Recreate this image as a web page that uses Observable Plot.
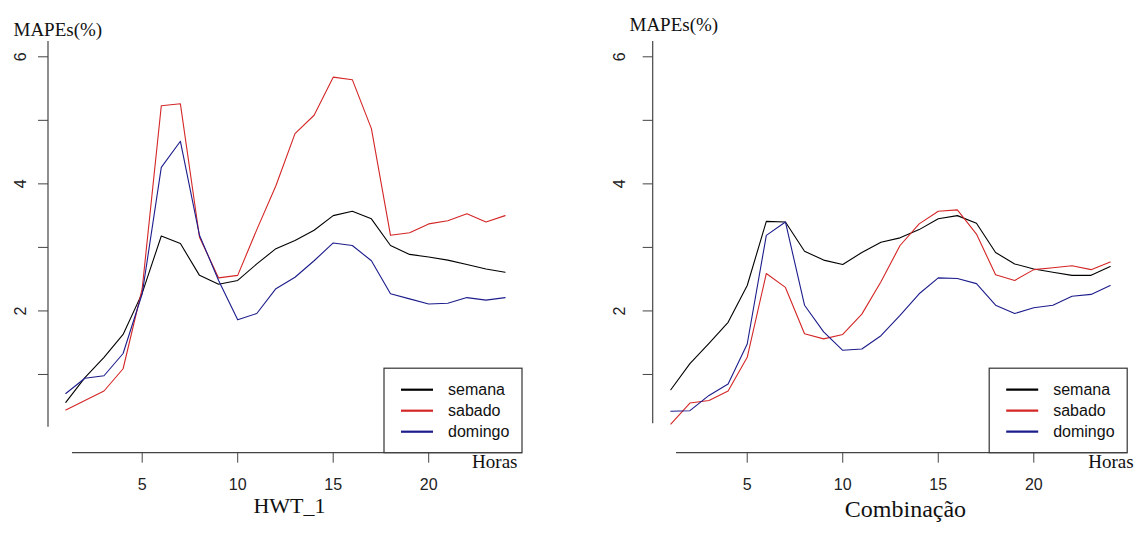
<!DOCTYPE html>
<html><head><meta charset="utf-8">
<script src="https://cdn.jsdelivr.net/npm/d3@7"></script>
<script src="https://cdn.jsdelivr.net/npm/@observablehq/plot@0.6"></script>
<style>
body{margin:0;background:#fff}
#wrap{display:flex;width:1143px;height:533px;overflow:hidden}
</style>
</head><body><div id="wrap"></div>
<script>
// ---- data ----
const hours = [1,2,3,4,5,6,7,8,9,10,11,12,13,14,15,16,17,18,19,20,21,22,23,24];
const seriesNames = ["semana","sabado","domingo"];
const seriesColors = ["#000000","#d42626","#1c1c8c"];

const hwtSemana  = [0.56,0.95,1.27,1.63,2.28,3.18,3.06,2.56,2.42,2.48,2.74,2.98,3.11,3.27,3.50,3.57,3.45,3.03,2.89,2.85,2.80,2.73,2.66,2.61];
const hwtSabado  = [0.44,0.59,0.74,1.09,2.35,5.23,5.26,3.16,2.52,2.56,3.28,3.97,4.79,5.08,5.68,5.64,4.87,3.19,3.23,3.37,3.42,3.53,3.40,3.50];
const hwtDomingo = [0.70,0.94,0.98,1.33,2.27,4.26,4.67,3.19,2.48,1.86,1.96,2.35,2.53,2.79,3.07,3.03,2.79,2.27,2.19,2.11,2.12,2.21,2.17,2.21];

const combSemana  = [0.76,1.17,1.49,1.82,2.40,3.41,3.40,2.94,2.80,2.73,2.92,3.08,3.15,3.28,3.45,3.50,3.38,2.92,2.74,2.66,2.61,2.56,2.56,2.70];
const combSabado  = [0.22,0.55,0.59,0.74,1.27,2.59,2.37,1.64,1.56,1.63,1.95,2.46,3.03,3.37,3.57,3.59,3.21,2.57,2.48,2.65,2.68,2.71,2.65,2.77];
const combDomingo = [0.42,0.43,0.67,0.85,1.48,3.19,3.40,2.09,1.67,1.38,1.40,1.61,1.93,2.27,2.52,2.51,2.43,2.09,1.96,2.05,2.09,2.23,2.26,2.40];

const yTicks = [1,2,3,4,5,6];
const yTickLabels = ["","2","","4","","6"];
const xTicks = [5,10,15,20];
const yLabel = "MAPEs(%)";
const xLabel = "Horas";
const panelTitles = ["HWT_1","Combinação"];

// ---- helpers ----
function rows(arrs) {
  const out = [];
  arrs.forEach((arr, s) => arr.forEach((v, i) => out.push({hour: hours[i], value: v, series: seriesNames[s]})));
  return out;
}
const yLabelMap = new Map(yTicks.map((t, i) => [t, yTickLabels[i]]));

function axisLines(yGap, xGap) {
  return (index, scales, values, dims) => {
    const {width, height, marginLeft, marginRight, marginTop, marginBottom} = dims;
    const left = marginLeft, right = width - marginRight, bottom = height - marginBottom;
    const g = d3.create("svg:g").attr("stroke", "#444").attr("stroke-width", 1.2);
    g.append("line").attr("x1", left).attr("x2", left).attr("y1", marginTop).attr("y2", bottom - yGap);
    g.append("line").attr("x1", left + xGap).attr("x2", right).attr("y1", bottom).attr("y2", bottom);
    return g.node();
  };
}

function legend() {
  return (index, scales, values, dims) => {
    const {width, height, marginRight, marginBottom} = dims;
    const right = width - marginRight, bottom = height - marginBottom;
    const g = d3.create("svg:g");
    g.append("rect").attr("x", right - 138).attr("y", bottom - 84.5).attr("width", 138).attr("height", 84.5)
      .attr("fill", "#fff").attr("stroke", "#333").attr("stroke-width", 1.2);
    seriesNames.forEach((name, i) => {
      const y = bottom - 63 + i * 21;
      g.append("line").attr("x1", right - 121).attr("x2", right - 89).attr("y1", y).attr("y2", y)
        .attr("stroke", seriesColors[i]).attr("stroke-width", 2.2);
      g.append("text").attr("x", right - 74).attr("y", y).attr("dy", "0.35em")
        .attr("text-anchor", "start")
        .attr("font-family", "Liberation Sans, Arial, sans-serif").attr("font-size", 16).attr("fill", "#111")
        .text(name);
    });
    return g.node();
  };
}

function panel(cfg) {
  return Plot.plot({
    width: cfg.width, height: 533,
    marginLeft: cfg.marginLeft, marginRight: cfg.marginRight, marginTop: 41, marginBottom: 80.3,
    style: {fontFamily: "Liberation Sans, Arial, sans-serif", fontSize: "16px", background: "#fff", overflow: "visible"},
    x: {domain: [1, 24], insetLeft: cfg.insetLeft, insetRight: cfg.insetRight},
    y: {domain: [0, 6], insetTop: 15.3, insetBottom: 15.2},
    color: {domain: seriesNames, range: seriesColors},
    marks: [
      axisLines(cfg.yGap, cfg.xGap),
      Plot.axisY({ticks: yTicks, tickFormat: d => yLabelMap.get(d), tickSize: 10, tickRotate: -90,
        tickPadding: cfg.yPad, stroke: "#444", fill: "#222", label: null, fontSize: 16}),
      Plot.axisX({ticks: xTicks, tickSize: 10, tickPadding: 15, stroke: "#444", fill: "#222", label: null, fontSize: 16}),
      Plot.line(rows(cfg.data), {x: "hour", y: "value", z: "series", stroke: "series", strokeWidth: 1.1}),
      legend(),
      Plot.text([yLabel], {text: d => d, frameAnchor: "top-left", textAnchor: "start", dx: cfg.ylabDx, dy: cfg.ylabDy,
        fontFamily: "Liberation Serif, Times New Roman, serif", fontSize: 19, fill: "#111"}),
      Plot.text([xLabel], {text: d => d, frameAnchor: "bottom-right", textAnchor: "end", dx: cfg.xlabDx, dy: 15,
        fontFamily: "Liberation Serif, Times New Roman, serif", fontSize: 19, fill: "#111"}),
      Plot.text([cfg.title], {text: d => d, frameAnchor: "bottom", dx: cfg.titleDx, dy: cfg.titleDy,
        fontFamily: "Liberation Serif, Times New Roman, serif", fontSize: cfg.titleSize, fill: "#111"})
    ]
  });
}

const wrap = document.getElementById("wrap");
wrap.appendChild(panel({
  width: 572, marginLeft: 48, marginRight: 50, insetLeft: 17.3, insetRight: 17.4,
  yGap: 26, xGap: 24, yPad: 13, ylabDx: -35, ylabDy: -19.5, xlabDx: -5,
  title: panelTitles[0], titleDx: 4, titleDy: 60, titleSize: 22,
  data: [hwtSemana, hwtSabado, hwtDomingo]
}));
wrap.appendChild(panel({
  width: 571, marginLeft: 80.7, marginRight: 15.8, insetLeft: 17.6, insetRight: 17.5,
  yGap: 29.4, xGap: 23.3, yPad: 18, ylabDx: -23.7, ylabDy: -24.2, xlabDx: 6,
  title: panelTitles[1], titleDx: 15, titleDy: 64, titleSize: 24,
  data: [combSemana, combSabado, combDomingo]
}));
</script>
</body></html>
